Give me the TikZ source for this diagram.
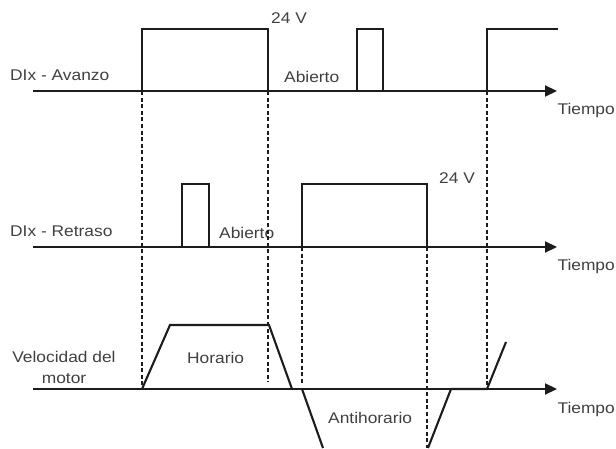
\documentclass[tikz,border=0pt]{standalone}
\usepackage{fontspec}
\setmainfont{Liberation Sans}[FakeStretch=1.12]
\usepackage{xcolor}
\usepackage{tikz}
\usetikzlibrary{
  arrows.meta,
  positioning
}
\definecolor{TxtGray}{RGB}{64,64,64}
\definecolor{InkBlack}{RGB}{28,28,28}
\tikzset{
  %%── ejes de tiempo ─────────────────────────────────────────
  eje/.style   = {-{Triangle[length=12pt, width=11pt]},
                  line width = 2.2pt, color = InkBlack},
  %%── trazos de las señales ──────────────────────────────────
  senal/.style = {line width = 2.1pt, color = InkBlack, line join = miter},
  %%── guías verticales punteadas ─────────────────────────────
  guia/.style  = {dash pattern = on 4pt off 2.6pt,
                  line width = 1.6pt, color = InkBlack},
  %%── rótulos ────────────────────────────────────────────────
  txt/.style   = {inner sep = 0pt, anchor = base west,
                  font = \fontsize{15.5}{18}\selectfont, text = TxtGray},
}

\begin{document}
\begin{tikzpicture}[x = 1pt, y = -1pt]

  \useasboundingbox (0,0) rectangle (616,449);

  %% ── Señal 1: DIx - Avanzo ──────────────────────────────────
  \draw[eje]   (33,91) -- (557,91);
  \draw[senal] (142,91) |- (268,29) -- (268,91);
  \draw[senal] (357,91) |- (383,29) -- (383,91);
  \draw[senal] (487,91) |- (558,29);

  \node[txt] (av)  at (10,81)  {DIx - Avanzo};
  \node[txt] (v1)  at (271,24) {24 V};
  \node[txt] (ab1) at (284,83) {Abierto};
  \node[txt, anchor = base east] (ti1) at (615,115) {Tiempo};

  %% ── Señal 2: DIx - Retraso ─────────────────────────────────
  \draw[eje]   (33,247) -- (557,247);
  \draw[senal] (182,247) |- (209,184) -- (209,247);
  \draw[senal] (302,247) |- (427,184) -- (427,247);

  \node[txt] (re)  at (10,237)  {DIx - Retraso};
  \node[txt] (v2)  at (439,184) {24 V};
  \node[txt] (ab2) at (219,239) {Abierto};
  \node[txt, anchor = base east] (ti2) at (615,271) {Tiempo};

  %% ── Velocidad del motor ────────────────────────────────────
  \draw[eje]   (33,389) -- (557,389);
  \draw[senal] (142,389) -- (170,325) -- (269,325) -- (292,389);
  \draw[senal] (302,389) -- (323,448);
  \draw[senal] (428,448) -- (451,389) -- (487,389) -- (506,342);

  \node[txt, anchor = base] (vel) at (64,362) {Velocidad del};
  \node[txt, anchor = north, below = 11pt of vel] (mot) {motor};
  \node[txt] (hor) at (187,363) {Horario};
  \node[txt] (ant) at (328,423) {Antihorario};
  \node[txt, anchor = base east] (ti3) at (615,413) {Tiempo};

  %% ── guías entre señales ────────────────────────────────────
  \draw[guia] (142,91)  -- (142,388);
  \draw[guia] (268,91)  -- (268,382);
  \draw[guia] (487,91)  -- (487,390);
  \draw[guia] (302,247) -- (302,385);
  \draw[guia] (427,247) -- (427,448);

\end{tikzpicture}
\end{document}
